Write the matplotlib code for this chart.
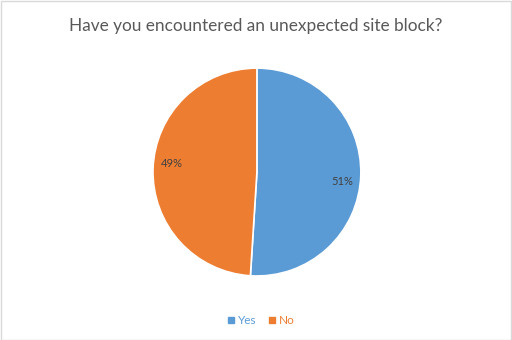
import matplotlib
matplotlib.use("Agg")
import matplotlib.pyplot as plt
from matplotlib.patches import Rectangle
from matplotlib.lines import Line2D

plt.rcParams['font.family'] = ['Lato', 'DejaVu Sans']

labels = ["Yes", "No"]
values = [51, 49]
colors = ["#5B9BD5", "#ED7D31"]
title = "Have you encountered an unexpected site block?"

fig = plt.figure(figsize=(5.12, 3.40), dpi=100)
fig.patch.set_facecolor("white")
fig.patches.append(Rectangle((0.001, 0.001), 0.997, 0.996, transform=fig.transFigure,
                             fill=False, edgecolor="#D9D9D9", linewidth=1.0))

ax = fig.add_axes([0.2988, 0.188, 0.406, 0.612])
wedges, texts, autotexts = ax.pie(values, colors=colors, startangle=90, counterclock=False,
                                  autopct="%d%%", pctdistance=0.82,
                                  wedgeprops=dict(edgecolor="white", linewidth=1.2),
                                  textprops=dict(color="#404040", fontsize=8))
# Excel-style label placement nudges
for t, dy in zip(autotexts, [-0.07, 0.06]):
    x, y = t.get_position()
    t.set_position((x, y + dy))
ax.set_xlim(-1, 1)
ax.set_ylim(-1, 1)
ax.set_aspect("equal")

fig.text(0.5, 0.925, title, ha="center", va="center", fontsize=12.4, color="#595959")

handles = [Line2D([0], [0], marker="s", linestyle="", markersize=4,
                  markerfacecolor=c, markeredgecolor=c) for c in colors]
leg = fig.legend(handles, labels, loc="center", bbox_to_anchor=(0.51, 0.058), ncol=2,
                 frameon=False, fontsize=8.5, handlelength=0.6, handletextpad=0.3,
                 columnspacing=1.0)
for t, c in zip(leg.get_texts(), colors):
    t.set_color(c)

fig.savefig("out.png", dpi=100)
